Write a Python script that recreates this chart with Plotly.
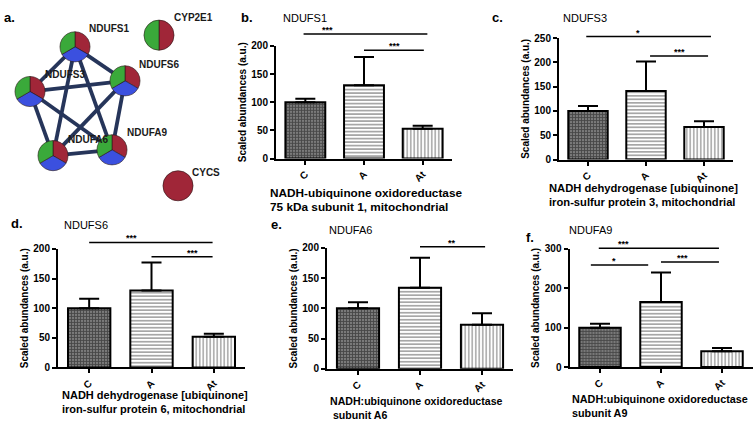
import plotly.graph_objects as go

W, H = 754, 425
FONT = "Liberation Sans, Arial, sans-serif"

# ---------------- data ----------------
categories = ["C", "A", "At"]

ndufs1_mean = [100, 130, 53]
ndufs1_err = [6, 50, 5]
ndufs3_mean = [100, 141, 67]
ndufs3_err = [10, 61, 12]
ndufs6_mean = [100, 130, 52]
ndufs6_err = [16, 47, 5]
ndufa6_mean = [100, 134, 73]
ndufa6_err = [10, 50, 19]
ndufa9_mean = [100, 165, 40]
ndufa9_err = [10, 75, 8]

ndufs1_sig = ["***", "***"]
ndufs3_sig = ["*", "***"]
ndufs6_sig = ["***", "***"]
ndufa6_sig = ["**"]
ndufa9_sig = ["***", "*", "***"]

network_nodes = ["NDUFS1", "NDUFS3", "NDUFS6", "NDUFA6", "NDUFA9", "CYP2E1", "CYCS"]
network_edges = [("NDUFS1", "NDUFS3"), ("NDUFS1", "NDUFS6"), ("NDUFS1", "NDUFA6"),
                 ("NDUFS1", "NDUFA9"), ("NDUFS3", "NDUFS6"), ("NDUFS3", "NDUFA6"),
                 ("NDUFS3", "NDUFA9"), ("NDUFS6", "NDUFA6"), ("NDUFS6", "NDUFA9"),
                 ("NDUFA6", "NDUFA9")]

# ---------------- layout helpers ----------------
def px(x):
    return x / W


def py(y):
    return 1 - y / H


RED, GREEN, BLUE = "#a02638", "#3aa93a", "#3b50df"
EDGE = "#26355a"

# node layout (pixel positions inside panel a) and slice colours
node_pos = {"NDUFS1": (75, 42), "NDUFS3": (30, 88), "NDUFS6": (125, 77),
            "NDUFA6": (53, 154), "NDUFA9": (112, 148), "CYP2E1": (159, 30),
            "CYCS": (178, 185)}
node_colors = {n: [RED, BLUE, GREEN] for n in network_nodes[:5]}
node_colors["CYP2E1"] = [RED, GREEN]
node_colors["CYCS"] = [RED]
node_label_pos = {"NDUFS1": (87, 23), "NDUFS3": (43, 71), "NDUFS6": (137, 60),
                  "NDUFA6": (66, 137), "NDUFA9": (125, 130), "CYP2E1": (172, 12),
                  "CYCS": (190, 171)}
NODE_R = 15.5

panels = [
    dict(name="NDUFS1", letter="b.", mean=ndufs1_mean, err=ndufs1_err, sig=ndufs1_sig,
         dx=(276, 452), dy=(41, 157), ymax=200, dtick=50,
         sigpos=[(-0.03, 2.08, 221, 0.37), (1.0, 2.02, 192, 1.52)],
         letter_xy=(239, 12), title_xy=(281, 12),
         sub=["NADH-ubiquinone oxidoreductase", "75 kDa subunit 1, mitochondrial"],
         sub_xy=(268, 192), sub_size=11.8),
    dict(name="NDUFS3", letter="c.", mean=ndufs3_mean, err=ndufs3_err, sig=ndufs3_sig,
         dx=(559, 733), dy=(33, 158), ymax=250, dtick=50,
         sigpos=[(-0.03, 2.12, 253, 0.86), (1.07, 2.07, 213, 1.57)],
         letter_xy=(490, 12), title_xy=(561, 12),
         sub=["NADH dehydrogenase [ubiquinone]", "iron-sulfur protein 3, mitochondrial"],
         sub_xy=(547, 187), sub_size=11.2),
    dict(name="NDUFS6", letter="d.", mean=ndufs6_mean, err=ndufs6_err, sig=ndufs6_sig,
         dx=(58, 245), dy=(250, 372), ymax=200, dtick=50,
         sigpos=[(0.0, 1.98, 211, 0.68), (1.0, 1.98, 187, 1.66)],
         letter_xy=(9, 224), title_xy=(62, 225),
         sub=["NADH dehydrogenase [ubiquinone]", "iron-sulfur protein 6, mitochondrial"],
         sub_xy=(60, 400), sub_size=11.0),
    dict(name="NDUFA6", letter="e.", mean=ndufa6_mean, err=ndufa6_err, sig=ndufa6_sig,
         dx=(327, 513), dy=(249, 373.3), ymax=200, dtick=50,
         sigpos=[(1.0, 2.05, 202, 1.52)],
         letter_xy=(269, 225), title_xy=(327, 230),
         sub=["NADH:ubiquinone oxidoreductase", " subunit A6"],
         sub_xy=(328, 406), sub_size=10.6),
    dict(name="NDUFA9", letter="f.", mean=ndufa9_mean, err=ndufa9_err, sig=ndufa9_sig,
         dx=(569.5, 752.5), dy=(250, 371.5), ymax=300, dtick=100,
         sigpos=[(-0.02, 1.95, 302, 0.38), (-0.15, 0.79, 259, 0.23), (1.0, 1.95, 267, 1.36)],
         letter_xy=(524, 238), title_xy=(567, 230),
         sub=["NADH:ubiquinone oxidoreductase", "subunit A9"],
         sub_xy=(570, 404), sub_size=10.8),
]

patterns = [
    dict(shape="+", fgcolor="#111111", bgcolor="#7a7a7a", size=3, solidity=0.5),
    dict(shape="-", fgcolor="#3c3c3c", bgcolor="#ffffff", size=3.5, solidity=0.45),
    dict(shape="|", fgcolor="#3c3c3c", bgcolor="#ffffff", size=3.5, solidity=0.4),
]

fig = go.Figure()
layout = dict(width=W, height=H, margin=dict(l=0, r=0, t=0, b=0),
              paper_bgcolor="white", plot_bgcolor="white", showlegend=False,
              font=dict(family=FONT, color="black"), bargap=0.3)
annotations = []
shapes = []

for i, p in enumerate(panels, start=1):
    xa, ya = f"x{i}", f"y{i}"
    for j, cat in enumerate(categories):
        fig.add_trace(go.Bar(
            x=[cat], y=[p["mean"][j]], xaxis=xa, yaxis=ya, width=0.68,
            marker=dict(color=patterns[j]["bgcolor"], line=dict(color="black", width=2),
                        pattern=patterns[j]),
            error_y=dict(type="data", array=[p["err"][j]], arrayminus=[0], symmetric=False,
                         color="black", thickness=2, width=10),
            hoverinfo="skip"))
    ax = dict(domain=[px(p["dx"][0]), px(p["dx"][1])], anchor=ya, type="category",
              categoryorder="array", categoryarray=categories, range=[-0.5, 2.5],
              showline=True, linecolor="black", linewidth=2, ticks="outside",
              ticklen=4, tickwidth=1.5, tickcolor="black", tickangle=-45,
              tickfont=dict(size=10, weight="bold"), showgrid=False, zeroline=False,
              fixedrange=True)
    ay = dict(domain=[py(p["dy"][1]), py(p["dy"][0])], anchor=xa,
              range=[0, p["ymax"]], dtick=p["dtick"], showline=True, linecolor="black",
              linewidth=2, ticks="outside", ticklen=4, tickwidth=1.5, tickcolor="black",
              tickfont=dict(size=10, weight="bold"), showgrid=False, zeroline=False,
              title=dict(text="Scaled abundances (a.u.)", font=dict(size=10, weight="bold"),
                         standoff=3),
              fixedrange=True)
    layout["xaxis" if i == 1 else f"xaxis{i}"] = ax
    layout["yaxis" if i == 1 else f"yaxis{i}"] = ay
    xr = "x" if i == 1 else f"x{i}"
    yr = "y" if i == 1 else f"y{i}"
    for label, (x0, x1, yv, xt) in zip(p["sig"], p["sigpos"]):
        yf = yv / p["ymax"]
        shapes.append(dict(type="line", xref=f"{xr} domain", yref=f"{yr} domain",
                           x0=(x0 + 0.5) / 3, x1=(x1 + 0.5) / 3, y0=yf, y1=yf,
                           line=dict(color="black", width=1.5)))
        annotations.append(dict(text=label, xref=f"{xr} domain", yref=f"{yr} domain",
                                x=(xt + 0.5) / 3, y=yf, xanchor="center", yanchor="bottom",
                                yshift=-3, showarrow=False,
                                font=dict(size=9, weight="bold", color="black")))
    annotations.append(dict(text=p["letter"], xref="paper", yref="paper",
                            x=px(p["letter_xy"][0]), y=py(p["letter_xy"][1]),
                            xanchor="left", yanchor="middle", showarrow=False,
                            font=dict(size=13, weight="bold", color="black")))
    annotations.append(dict(text=p["name"], xref="paper", yref="paper",
                            x=px(p["title_xy"][0]), y=py(p["title_xy"][1]),
                            xanchor="left", yanchor="middle", showarrow=False,
                            font=dict(size=11, color="black")))
    for k, line in enumerate(p["sub"]):
        annotations.append(dict(text=line, xref="paper", yref="paper",
                                x=px(p["sub_xy"][0]), y=py(p["sub_xy"][1] + 15 * k),
                                xanchor="left", yanchor="middle", align="left",
                                showarrow=False,
                                font=dict(size=p["sub_size"], weight="bold", color="black")))

# ---------------- panel a: network ----------------
layout["xaxis6"] = dict(domain=[0, px(240)], range=[0, 240], visible=False,
                        anchor="y6", fixedrange=True)
layout["yaxis6"] = dict(domain=[py(210), 1], range=[210, 0], visible=False,
                        anchor="x6", fixedrange=True)
for a, b in network_edges:
    (x0, y0), (x1, y1) = node_pos[a], node_pos[b]
    fig.add_trace(go.Scatter(x=[x0, x1], y=[y0, y1], xaxis="x6", yaxis="y6",
                             mode="lines", line=dict(color=EDGE, width=3.8),
                             hoverinfo="skip"))
for n in network_nodes:
    cx, cy = node_pos[n]
    cols = node_colors[n]
    fig.add_trace(go.Pie(values=[1] * len(cols), labels=[f"{n}-{k}" for k in range(len(cols))],
                         marker=dict(colors=cols, line=dict(color="#2a1a1a", width=0.6)),
                         sort=False, direction="clockwise", rotation=0,
                         textinfo="none", hoverinfo="skip", showlegend=False,
                         domain=dict(x=[px(cx - NODE_R), px(cx + NODE_R)],
                                     y=[py(cy + NODE_R), py(cy - NODE_R)])))
    lx, ly = node_label_pos[n]
    annotations.append(dict(text=n, xref="paper", yref="paper", x=px(lx), y=py(ly),
                            xanchor="left", yanchor="middle", showarrow=False,
                            font=dict(size=10, weight="bold", color="#1a1a1a")))
annotations.append(dict(text="a.", xref="paper", yref="paper", x=px(2), y=py(12),
                        xanchor="left", yanchor="middle", showarrow=False,
                        font=dict(size=13, weight="bold", color="black")))

layout["annotations"] = annotations
layout["shapes"] = shapes
fig.update_layout(**layout)
fig.write_html("out.html", config={"displayModeBar": False},
               post_script="document.body.style.margin='0';document.body.style.padding='0';")
